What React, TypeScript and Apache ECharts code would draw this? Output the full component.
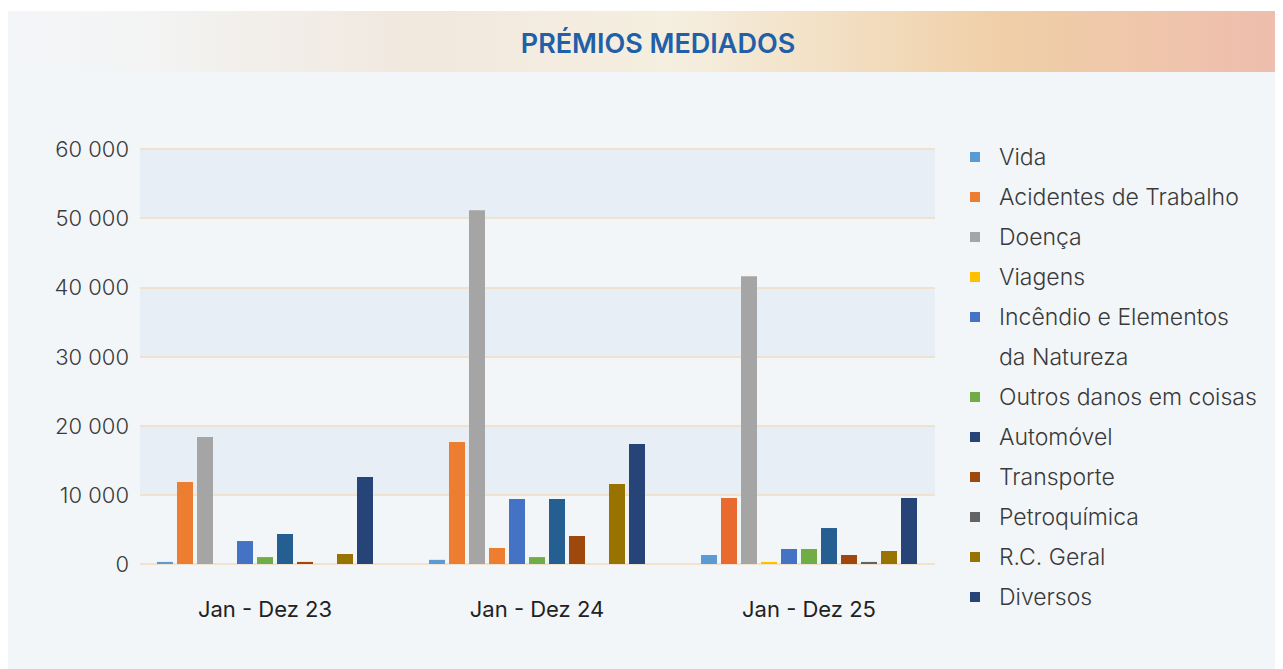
import React, { useEffect, useRef } from "react";
import * as echarts from "echarts";

const categories = ["Jan - Dez 23", "Jan - Dez 24", "Jan - Dez 25"];
const seriesNames = [
  "Vida",
  "Acidentes de Trabalho",
  "Doença",
  "Viagens",
  "Incêndio e Elementos da Natureza",
  "Outros danos em coisas",
  "Automóvel",
  "Transporte",
  "Petroquímica",
  "R.C. Geral",
  "Diversos",
];
const vida = [300, 600, 1300];
const acidentes = [11850, 17630, 9540];
const doenca = [18350, 51150, 41620];
const viagens = [0, 2310, 300];
const incendio = [3320, 9390, 2170];
const outros = [1000, 1000, 2170];
const automovel = [4340, 9390, 5200];
const transporte = [300, 4050, 1300];
const petroquimica = [0, 0, 300];
const rcGeral = [1450, 11560, 1880];
const diversos = [12570, 17340, 9540];
const seriesValues = [
  vida, acidentes, doenca, viagens, incendio, outros,
  automovel, transporte, petroquimica, rcGeral, diversos,
];
const seriesColors = [
  "#5b9bd5", "#ed7d31", "#a5a5a5", "#ffc000", "#4472c4", "#70ad47",
  "#255e91", "#9e480e", "#636363", "#997300", "#264478",
];
const legendColors = [
  "#5b9bd5", "#ed7d31", "#a5a5a5", "#ffc000", "#4472c4", "#70ad47",
  "#264478", "#9e480e", "#636363", "#997300", "#264478",
];
// per-point colour overrides seen in the picture: [series, category, colour]
const pointColors: [number, number, string][] = [
  [3, 1, "#ed7d31"],
  [1, 2, "#e96a2f"],
];
const yTicks = { min: 0, max: 60000, interval: 10000 };

const FONT = "Inter, 'Noto Sans', sans-serif";

function fmt(v: number) {
  return String(v).replace(/\B(?=(\d{3})+(?!\d))/g, " ");
}

export default function App() {
  const ref = useRef<HTMLDivElement>(null);
  useEffect(() => {
    if (!ref.current) return;
    const chart = echarts.init(ref.current, undefined, { renderer: "svg" });
    const series = seriesNames.map((name, si) => ({
      name,
      type: "bar",
      xAxisIndex: 1,
      yAxisIndex: 1,
      barWidth: 16,
      barGap: "25%",
      itemStyle: { color: seriesColors[si] },
      data: seriesValues[si].map((v, ci) => {
        const o = pointColors.find((p) => p[0] === si && p[1] === ci);
        return o ? { value: v, itemStyle: { color: o[2] } } : v;
      }),
    }));
    const legendItem = (i: number) => ({
      name: seriesNames[i],
      itemStyle: { color: legendColors[i] },
    });
    const legendBase = {
      orient: "vertical",
      left: 962,
      padding: 0,
      icon: "rect",
      itemWidth: 10,
      itemHeight: 10,
      itemGap: 0,
      selectedMode: false,
      textStyle: {
        fontFamily: FONT,
        fontSize: 23,
        fontWeight: 300,
        color: "#3a3a3a",
        lineHeight: 40,
        padding: [0, 0, 0, 14],
      },
      formatter: (n: string) =>
        n === "Incêndio e Elementos da Natureza" ? "Incêndio e Elementos" : n,
    };
    const gridTop = 138;
    const gridBottom = 105;
    chart.setOption({
      animation: false,
      backgroundColor: "#f3f6f9",
      graphic: [
        {
          type: "rect",
          left: 0,
          top: 0,
          z: -10,
          shape: { width: 1275, height: 61 },
          style: {
            fill: new echarts.graphic.LinearGradient(0, 0, 1, 0, [
              { offset: 0, color: "#f3f6f9" },
              { offset: 0.1, color: "#f3f4f4" },
              { offset: 0.32, color: "#f1e8de" },
              { offset: 0.52, color: "#f5efe0" },
              { offset: 0.78, color: "#f0cfa7" },
              { offset: 1, color: "#eebdae" },
            ]),
          },
        },
        {
          type: "text",
          x: 650,
          y: 32,
          style: {
            text: "PRÉMIOS MEDIADOS",
            fontFamily: FONT,
            fontSize: 27,
            fontWeight: 600,
            fill: "#2160a8",
            align: "center",
            verticalAlign: "middle",
          },
        },
        {
          type: "text",
          x: 991,
          y: 346,
          style: {
            text: "da Natureza",
            fontFamily: FONT,
            fontSize: 23,
            fontWeight: 300,
            fill: "#3a3a3a",
            align: "left",
            verticalAlign: "middle",
          },
        },
      ],
      legend: [
        { ...legendBase, top: 126, data: [0, 1, 2, 3, 4].map(legendItem) },
        { ...legendBase, top: 366, data: [5, 6, 7, 8, 9, 10].map(legendItem) },
      ],
      grid: [
        { left: 132, right: 348, top: gridTop, bottom: gridBottom },
        { left: 121, right: 338, top: gridTop, bottom: gridBottom },
      ],
      xAxis: [
        {
          type: "category",
          gridIndex: 0,
          data: categories,
          show: false,
        },
        {
          type: "category",
          gridIndex: 1,
          data: categories,
          axisLine: { show: false },
          axisTick: { show: false },
          axisLabel: {
            margin: 34,
            fontFamily: FONT,
            fontSize: 22,
            color: "#222222",
          },
        },
      ],
      yAxis: [
        {
          type: "value",
          gridIndex: 0,
          min: yTicks.min,
          max: yTicks.max,
          interval: yTicks.interval,
          axisLine: { show: false },
          axisTick: { show: false },
          axisLabel: {
            margin: 11,
            fontFamily: FONT,
            fontSize: 22,
            fontWeight: 300,
            color: "#3a3a3a",
            formatter: (v: number) => fmt(v),
          },
          splitLine: { show: true, lineStyle: { color: "#f1e2cf", width: 2 } },
          splitArea: {
            show: true,
            areaStyle: { color: ["rgba(0,0,0,0)", "#e8eef6"] },
          },
        },
        {
          type: "value",
          gridIndex: 1,
          min: yTicks.min,
          max: yTicks.max,
          interval: yTicks.interval,
          show: false,
          splitLine: { show: false },
        },
      ],
      series,
    });
    return () => chart.dispose();
  }, []);
  return (
    <div style={{ paddingTop: 3 }}>
      <div ref={ref} style={{ width: 1275, height: 658 }} />
    </div>
  );
}
